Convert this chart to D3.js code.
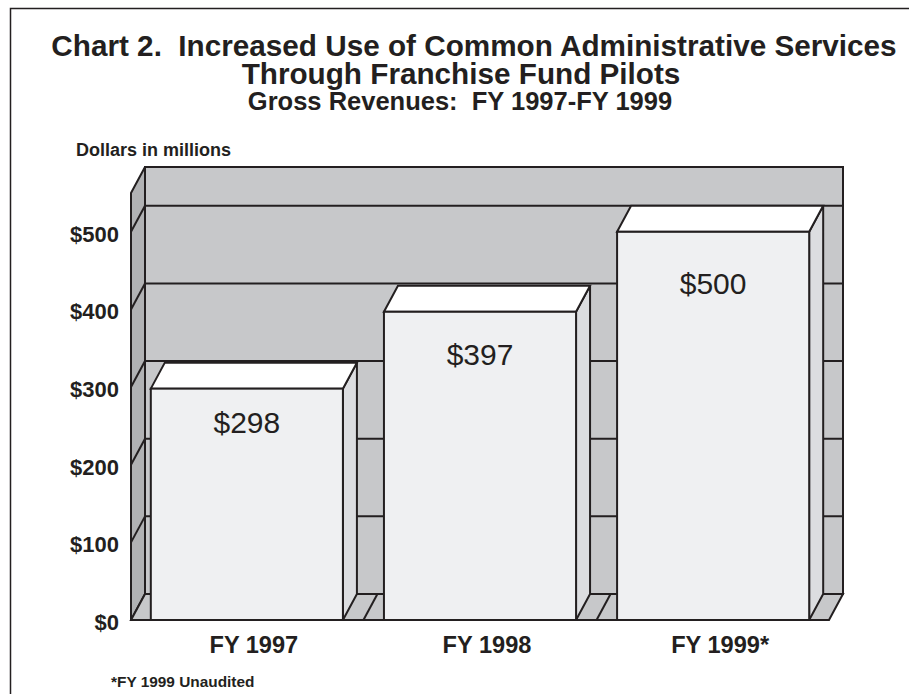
<!DOCTYPE html>
<html>
<head>
<meta charset="utf-8">
<script src="https://cdn.jsdelivr.net/npm/d3@7/dist/d3.min.js"></script>
<style>
  html, body { margin: 0; padding: 0; background: #ffffff; }
  svg { display: block; }
  text { font-family: "Liberation Sans", Arial, Helvetica, sans-serif; fill: #231f20; white-space: pre; }
</style>
</head>
<body>
<svg id="chart" width="909" height="694"></svg>
<script>
// Gross revenues, dollars in millions
const categories = ["FY 1997", "FY 1998", "FY 1999*"];
const revenues = [298, 397, 500];
const valueLabels = ["$298", "$397", "$500"];
const yTicks = [0, 100, 200, 300, 400, 500];
const yTickLabels = ["$0", "$100", "$200", "$300", "$400", "$500"];
const yMax = 550;

const titleLines = [
  "Chart 2.  Increased Use of Common Administrative Services",
  "Through Franchise Fund Pilots"
];
const subtitle = "Gross Revenues:  FY 1997-FY 1999";
const unitLabel = "Dollars in millions";
const footnote = "*FY 1999 Unaudited";

const svg = d3.select("#chart");

const ink = "#231f20";
const colors = {
  wall: "#c7c8ca",
  sideWall: "#b1b2b4",
  floor: "#c7c8ca",
  front: "#eff0f2",
  side: "#dcdde0",
  top: "#ffffff"
};

// front plane of the plot and the depth offset of the 3D box
const plot = { left: 131, right: 829, bottom: 620, top: 193 };
const depth = { dx: 14, dy: -26 };

const x = d3.scaleBand()
  .domain(categories)
  .range([plot.left, plot.right])
  .paddingInner(0.176)
  .paddingOuter(0.085);

const y = d3.scaleLinear()
  .domain([0, yMax])
  .range([plot.bottom, plot.top]);

const line = d3.line();
const poly = pts => line(pts) + "Z";

// outer frame
svg.append("path")
  .attr("d", "M10.5,700 L10.5,8.5 L915,8.5")
  .attr("fill", "none").attr("stroke", ink).attr("stroke-width", 1.5);

// title block
const title = svg.append("text").attr("font-weight", "bold").attr("text-anchor", "middle");
title.append("tspan").attr("x", 474).attr("y", 56).attr("font-size", 29.7).text(titleLines[0]);
title.append("tspan").attr("x", 461).attr("y", 84).attr("font-size", 29.7).text(titleLines[1]);
title.append("tspan").attr("x", 460).attr("y", 110).attr("font-size", 25.5).text(subtitle);

svg.append("text").attr("x", 76).attr("y", 156)
  .attr("font-size", 18).attr("font-weight", "bold").text(unitLabel);

const g = svg.append("g");
const stroke = sel => sel.attr("stroke", ink).attr("stroke-width", 2).attr("stroke-linejoin", "miter");

const x0 = plot.left, x1 = plot.right;
const yb = y(0), yt = y(yMax);

// back wall
g.append("path").call(stroke)
  .attr("fill", colors.wall)
  .attr("d", poly([[x0 + depth.dx, yt + depth.dy], [x1 + depth.dx, yt + depth.dy],
                   [x1 + depth.dx, yb + depth.dy], [x0 + depth.dx, yb + depth.dy]]));

// back wall gridlines
g.selectAll(".grid-back").data(yTicks.filter(t => t > 0)).join("line")
  .attr("class", "grid-back").call(stroke)
  .attr("x1", x0 + depth.dx).attr("x2", x1 + depth.dx)
  .attr("y1", d => y(d) + depth.dy).attr("y2", d => y(d) + depth.dy);

// floor
g.append("path").call(stroke)
  .attr("fill", colors.floor)
  .attr("d", poly([[x0, yb], [x1, yb], [x1 + depth.dx, yb + depth.dy], [x0 + depth.dx, yb + depth.dy]]));

// floor dividers at category boundaries
const bw = x.bandwidth();
const bounds = categories.slice(0, -1).map((c, i) => (x(c) + bw + x(categories[i + 1])) / 2);
g.selectAll(".floor-div").data(bounds).join("line")
  .attr("class", "floor-div").call(stroke)
  .attr("x1", d => d).attr("y1", yb)
  .attr("x2", d => d + depth.dx).attr("y2", yb + depth.dy);

// left side wall
g.append("path").call(stroke)
  .attr("fill", colors.sideWall)
  .attr("d", poly([[x0, yt], [x0 + depth.dx, yt + depth.dy], [x0 + depth.dx, yb + depth.dy], [x0, yb]]));
g.append("path")
  .attr("fill", colors.floor).attr("stroke", "none")
  .attr("d", poly([[x0 + 1, yb - 1], [x0 + depth.dx, yb + depth.dy + 1], [x0 + depth.dx + 5, yb + depth.dy + 1], [x0 + depth.dx + 5, yb - 1]]));
g.append("line").call(stroke)
  .attr("x1", x0).attr("y1", yb).attr("x2", x0 + depth.dx).attr("y2", yb + depth.dy);
g.append("line").call(stroke)
  .attr("x1", x0 + depth.dx).attr("y1", yb + depth.dy).attr("x2", x0 + depth.dx + 6).attr("y2", yb + depth.dy);
g.selectAll(".grid-side").data(yTicks.filter(t => t > 0)).join("line")
  .attr("class", "grid-side").call(stroke)
  .attr("x1", x0).attr("y1", d => y(d))
  .attr("x2", x0 + depth.dx).attr("y2", d => y(d) + depth.dy);

// bars
const data = categories.map((c, i) => ({ cat: c, value: revenues[i], label: valueLabels[i] }));
const bars = g.selectAll(".bar").data(data).join("g").attr("class", "bar");

bars.append("path").call(stroke).attr("fill", colors.side)
  .attr("d", d => {
    const r = x(d.cat) + bw, t = y(d.value);
    return poly([[r, t], [r + depth.dx, t + depth.dy], [r + depth.dx, yb + depth.dy], [r, yb]]);
  });
bars.append("path").call(stroke).attr("fill", colors.top)
  .attr("d", d => {
    const l = x(d.cat), r = l + bw, t = y(d.value);
    return poly([[l, t], [l + depth.dx, t + depth.dy], [r + depth.dx, t + depth.dy], [r, t]]);
  });
bars.append("rect").call(stroke).attr("fill", colors.front)
  .attr("x", d => x(d.cat)).attr("y", d => y(d.value))
  .attr("width", bw).attr("height", d => yb - y(d.value));

bars.append("text")
  .attr("x", d => x(d.cat) + bw / 2)
  .attr("y", d => y(d.value) + 19 + 0.11 * (yb - y(d.value)))
  .attr("text-anchor", "middle")
  .attr("font-size", 30)
  .text(d => d.label);

// y axis labels
svg.selectAll(".ytick").data(yTicks).join("text")
  .attr("class", "ytick")
  .attr("x", 119).attr("y", d => y(d) + 10)
  .attr("text-anchor", "end")
  .attr("font-size", 22).attr("font-weight", "bold")
  .text((d, i) => yTickLabels[i]);

// category labels, centred under the full bar including its depth
svg.selectAll(".xtick").data(categories).join("text")
  .attr("class", "xtick")
  .attr("x", d => x(d) + bw / 2 + depth.dx / 2).attr("y", 653)
  .attr("text-anchor", "middle")
  .attr("font-size", 23.6).attr("font-weight", "bold")
  .text(d => d);

// footnote
svg.append("text").attr("x", 111).attr("y", 687)
  .attr("font-size", 15.4).attr("font-weight", "bold").text(footnote);
</script>
</body>
</html>
